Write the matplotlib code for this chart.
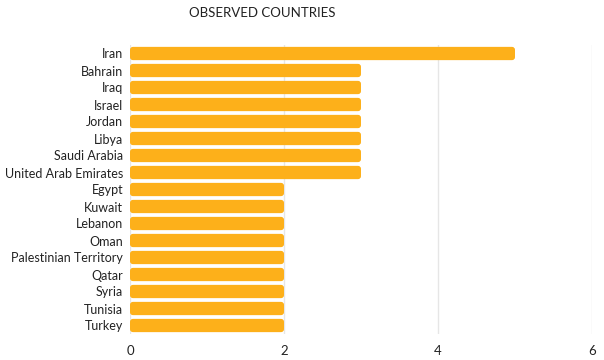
import matplotlib
matplotlib.use("Agg")
import matplotlib.pyplot as plt
from matplotlib.patches import FancyBboxPatch

countries = ["Iran", "Bahrain", "Iraq", "Israel", "Jordan", "Libya", "Saudi Arabia",
             "United Arab Emirates", "Egypt", "Kuwait", "Lebanon", "Oman",
             "Palestinian Territory", "Qatar", "Syria", "Tunisia", "Turkey"]
values = [5, 3, 3, 3, 3, 3, 3, 3, 2, 2, 2, 2, 2, 2, 2, 2, 2]
xticks = [0, 2, 4, 6]

plt.rcParams['font.family'] = ['Lato', 'DejaVu Sans']

fig = plt.figure(figsize=(6.04, 3.6), dpi=100)
ax = fig.add_axes([130/604, 1-334/360, (592-130)/604, (334-45)/360])

n = len(countries)
ax.set_xlim(0, 6)
ax.set_ylim(n - 0.5, -0.5)
color = "#FDB01A"
h = 0.78
ax_w_px = 592 - 130
ax_h_px = 334 - 45
xu_per_px = 6 / ax_w_px
yu_per_px = n / ax_h_px
for i, v in enumerate(values):
    p = FancyBboxPatch((0, i - h/2), v, h,
                       boxstyle=f"round,pad=0,rounding_size={3*xu_per_px}",
                       mutation_aspect=yu_per_px / xu_per_px,
                       facecolor=color, edgecolor="none", zorder=3)
    ax.add_patch(p)

ax.set_yticks(range(n))
ax.set_yticklabels(countries, fontsize=9, color="#222222")
ax.set_xticks(xticks)
ax.set_xticklabels([str(t) for t in xticks], fontsize=9.5, color="#222222")
ax.tick_params(length=0)
ax.tick_params(axis='y', pad=5)
ax.tick_params(axis='x', pad=8)
for s in ax.spines.values():
    s.set_visible(False)
ax.grid(axis='x', color="#e6e6e6", linewidth=1, zorder=0)
ax.set_axisbelow(True)

fig.text(262/604, 1-13/360, "OBSERVED COUNTRIES", ha='center', va='center',
         fontsize=9.5, color="#222222")

fig.savefig("out.png", dpi=100)
